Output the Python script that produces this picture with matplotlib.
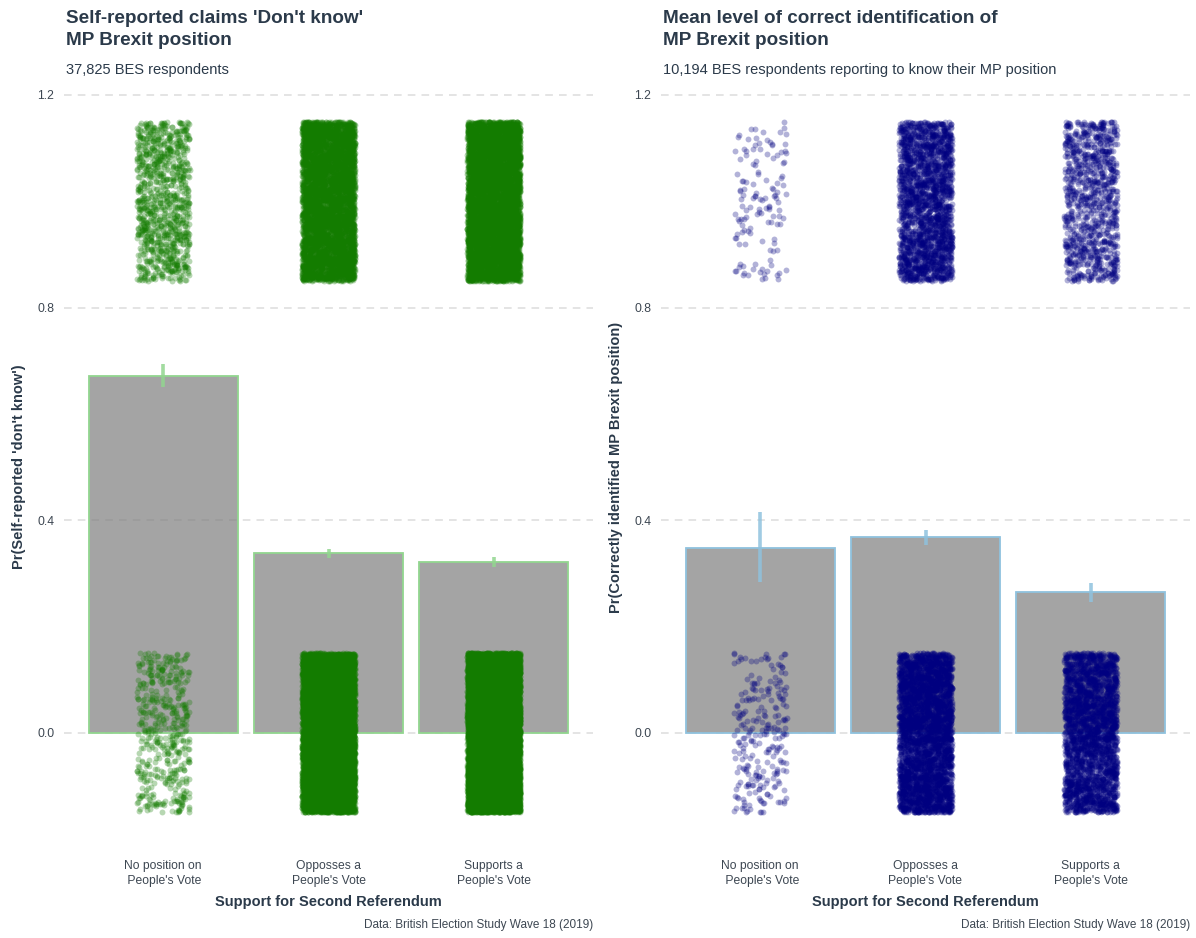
import numpy as np
import matplotlib
matplotlib.use("Agg")
import matplotlib.pyplot as plt

plt.rcParams['font.family'] = ['Liberation Sans', 'DejaVu Sans']

categories = ["No position on\n People's Vote", "Opposses a\nPeople's Vote", "Supports a\nPeople's Vote"]

# left panel: self-reported don't know
dk_mean = [0.671, 0.338, 0.322]
dk_lo = [0.651, 0.329, 0.312]
dk_hi = [0.694, 0.346, 0.331]
dk_n_yes = [1006, 5410, 6545]     # answered "don't know" (value 1)
dk_n_no = [494, 10590, 13780]     # claimed to know (value 0)

# right panel: correct identification
ci_mean = [0.348, 0.369, 0.265]
ci_lo = [0.284, 0.354, 0.246]
ci_hi = [0.416, 0.382, 0.282]
ci_n_yes = [132, 2214, 1011]
ci_n_no = [248, 3786, 2803]

txt_dark = '#2b3a4a'
tick_col = '#3d4752'

fig = plt.figure(figsize=(11.96, 9.38), dpi=100)
W, H = 1196, 938

rng = np.random.default_rng(7)


def panel(x0, x1, means, lo, hi, n_yes, n_no, pt_col, pt_alpha, edge_col, ylab):
    ax = fig.add_axes([x0 / W, 1 - 847 / H, (x1 - x0) / W, (847 - 87) / H])
    xs = np.arange(1, len(categories) + 1)
    ax.bar(xs, means, width=0.9, color='#7f7f7f', alpha=0.71, edgecolor='none', zorder=2)
    ax.bar(xs, means, width=0.9, facecolor='none', edgecolor=edge_col, linewidth=1.3, zorder=3)
    ax.vlines(xs, lo, hi, color=edge_col, linewidth=2.6, alpha=0.85, zorder=4)
    # raw 0/1 responses, jittered like geom_jitter(width=.15, height=.15)
    for i in range(len(categories)):
        for val, n in ((1, n_yes[i]), (0, n_no[i])):
            jx = xs[i] + rng.uniform(-0.16, 0.16, n)
            jy = val + rng.uniform(-0.15, 0.15, n)
            ax.scatter(jx, jy, s=18, color=pt_col, alpha=pt_alpha, linewidths=0, zorder=5)
    ax.set_xlim(0.4, 3.6)
    ax.set_ylim(-0.215, 1.215)
    ax.set_yticks([0.0, 0.4, 0.8, 1.2])
    ax.set_yticklabels(['0.0', '0.4', '0.8', '1.2'])
    ax.set_xticks(xs)
    ax.set_xticklabels(categories, fontsize=8.7, color=tick_col, linespacing=1.35)
    ax.tick_params(axis='y', length=0, pad=7, labelsize=8.7, labelcolor=tick_col)
    ax.tick_params(axis='x', length=0, pad=9)
    ax.grid(axis='y', color='#dcdcdc', linestyle=(0, (5, 4)), linewidth=1.1, zorder=0)
    ax.set_axisbelow(True)
    for s in ax.spines.values():
        s.set_visible(False)
    ax.set_xlabel('Support for Second Referendum', fontsize=10.5, fontweight='bold',
                  color=txt_dark, labelpad=6)
    ax.set_ylabel(ylab, fontsize=10.5, fontweight='bold', color=txt_dark, labelpad=8)
    fig.text(x1 / W, 1 - 925 / H, 'Data: British Election Study Wave 18 (2019)',
             ha='right', va='center', fontsize=8.5, color=tick_col)
    return ax


axl = panel(64, 593, dk_mean, dk_lo, dk_hi, dk_n_yes, dk_n_no, '#137c00', 0.3, '#92d68f',
            "Pr(Self-reported 'don't know')")
axr = panel(661, 1190, ci_mean, ci_lo, ci_hi, ci_n_yes, ci_n_no, '#000080', 0.3, '#8fc2de',
            'Pr(Correctly identified MP Brexit position)')

fig.text(66 / W, 1 - 10 / H, "Self-reported claims 'Don't know'\nMP Brexit position", ha='left', va='top',
         fontsize=13.6, fontweight='bold', color=txt_dark, linespacing=1.38)
fig.text(66 / W, 1 - 70 / H, '37,825 BES respondents', ha='left', va='center',
         fontsize=10.5, color=txt_dark)
fig.text(663 / W, 1 - 10 / H, "Mean level of correct identification of\nMP Brexit position", ha='left',
         va='top', fontsize=13.6, fontweight='bold', color=txt_dark, linespacing=1.38)
fig.text(663 / W, 1 - 70 / H, '10,194 BES respondents reporting to know their MP position', ha='left',
         va='center', fontsize=10.5, color=txt_dark)

fig.savefig('out.png', dpi=100)
